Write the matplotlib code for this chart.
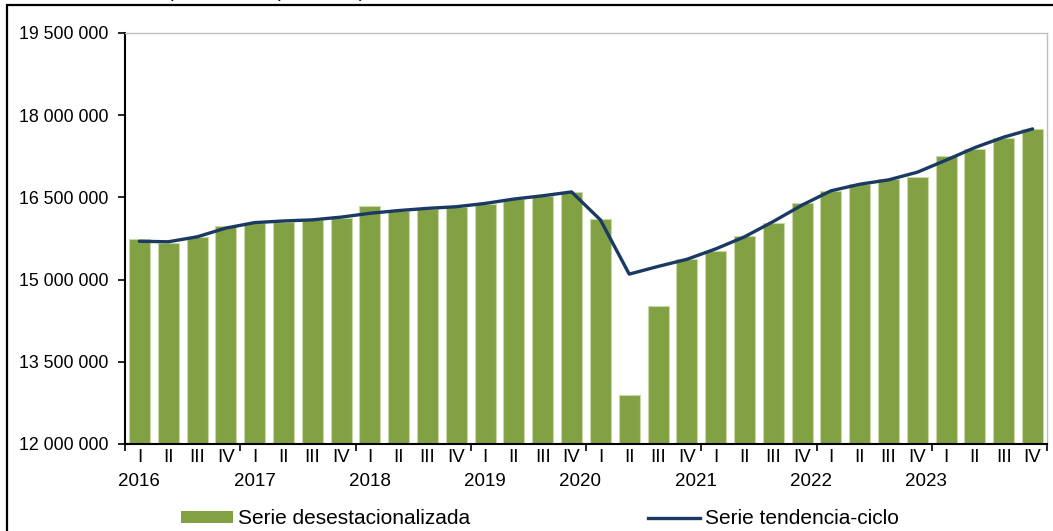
import matplotlib
matplotlib.use("Agg")
import matplotlib.pyplot as plt
from matplotlib.patches import Patch, Rectangle
from matplotlib.lines import Line2D
import numpy as np

plt.rcParams['font.family'] = ['Liberation Sans', 'DejaVu Sans']

# quarterly data, 2016 I .. 2023 IV
quarters = ["I", "II", "III", "IV"] * 8
years = ["2016", "2017", "2018", "2019", "2020", "2021", "2022", "2023"]
year_pos = [0, 4, 8, 12, 15.3, 19.3, 23.3, 27.3]

desestacionalizada = [
    15735000, 15660000, 15780000, 15970000,
    16030000, 16060000, 16090000, 16120000,
    16350000, 16260000, 16290000, 16330000,
    16380000, 16470000, 16530000, 16590000,
    16100000, 12890000, 14520000, 15370000,
    15530000, 15800000, 16030000, 16390000,
    16620000, 16740000, 16830000, 16880000,
    17260000, 17380000, 17590000, 17750000,
]
tendencia = [
    15700000, 15690000, 15780000, 15940000,
    16040000, 16070000, 16090000, 16140000,
    16210000, 16260000, 16300000, 16330000,
    16390000, 16470000, 16530000, 16600000,
    16090000, 15100000, 15240000, 15370000,
    15560000, 15780000, 16060000, 16360000,
    16620000, 16740000, 16820000, 16960000,
    17180000, 17410000, 17600000, 17750000,
]
yticks = [12000000, 13500000, 15000000, 16500000, 18000000, 19500000]

green = '#82A044'
navy = '#1B3A63'

fig = plt.figure(figsize=(10.53, 5.31), dpi=100)
ax = fig.add_axes([125 / 1053, 87 / 531, 922 / 1053, 411 / 531])

x = np.arange(len(desestacionalizada))
ax.bar(x, desestacionalizada, width=0.73, color=green, edgecolor='#C9D9A6',
       linewidth=0.8, zorder=2)
ax.plot(x, tendencia, color=navy, lw=2.4, zorder=3, solid_capstyle='round')

ax.set_xlim(-0.5, len(x) - 0.5)
ax.set_ylim(12000000, 19500000)
ax.set_yticks(yticks)
ax.set_yticklabels([f"{v:,.0f}".replace(",", " ") for v in yticks], fontsize=12.8)
ax.set_xticks(np.arange(-0.5, len(x), 4))
ax.set_xticklabels([])
ax.tick_params(axis='both', which='major', direction='out', length=5, width=1.2,
               color='black', pad=7)

for s in ['left', 'bottom']:
    ax.spines[s].set_color('black')
    ax.spines[s].set_linewidth(1.5)
for s in ['top', 'right']:
    ax.spines[s].set_color('#BFBFBF')
    ax.spines[s].set_linewidth(1.0)

tr = ax.get_xaxis_transform()
for i, q in enumerate(quarters):
    ax.text(i, -14 / 411, q, transform=tr, ha='center', va='center', fontsize=13.5)
for p, yl in zip(year_pos, years):
    ax.text(p, -37 / 411, yl, transform=tr, ha='center', va='center', fontsize=13.5)

handles = [Patch(facecolor=green, edgecolor='none'),
           Line2D([0], [0], color=navy, lw=2.4)]
fig.legend(handles, ["Serie desestacionalizada", "Serie tendencia-ciclo"],
           loc='center left', bbox_to_anchor=(181 / 1053, 12 / 531), ncol=2,
           frameon=False, fontsize=15, handlelength=2.5, handleheight=0.55,
           handletextpad=0.25, columnspacing=8.5, borderpad=0, borderaxespad=0)

# outer frame (cut at right and bottom) and title clipped by the top edge
fig.patches.append(Rectangle((6.5 / 1053, -0.5), 2, (531 - 4.5) / 531 + 0.5,
                             transform=fig.transFigure, fill=False,
                             edgecolor='black', lw=1.6))
fig.text(266 / 1053, 1.0 + 3 / 531, "(Número de personas)", ha='center',
         va='baseline', fontsize=14.2)

fig.savefig("out.png", dpi=100)
